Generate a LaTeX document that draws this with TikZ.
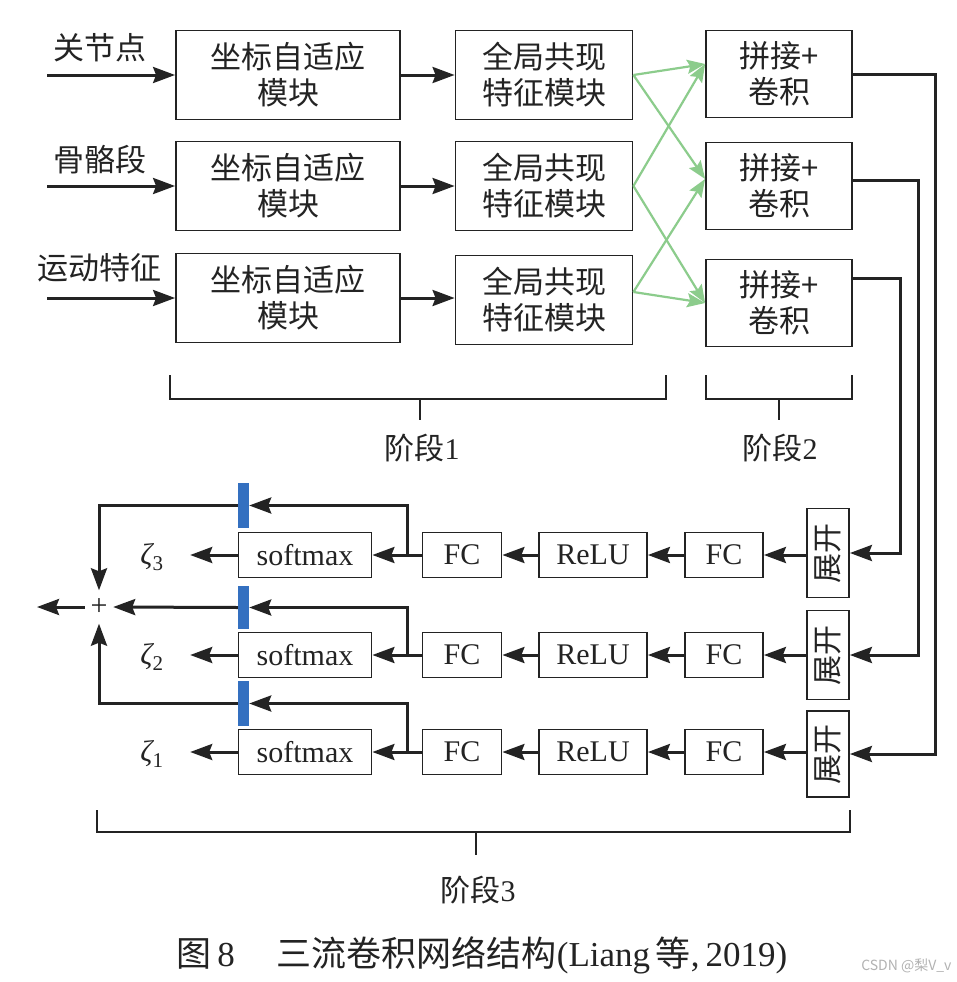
\documentclass[tikz,border=0pt]{standalone}
\usepackage{graphicx}
\usepackage{fontspec}
\setmainfont{Liberation Serif}
\newfontfamily\cjk{Noto Sans CJK SC}
\newfontfamily\wmfont{Noto Sans CJK SC}
\usepackage{xcolor}
\usetikzlibrary{arrows.meta,positioning,calc}
\definecolor{linkgreen}{RGB}{140,204,140}
\definecolor{barblue}{RGB}{52,112,192}
\definecolor{ink}{RGB}{35,35,35}

\begin{document}
\begin{tikzpicture}[x=1pt,y=-1pt,>={Stealth[length=22pt,width=16pt,inset=3pt]},
  blk/.style={draw=ink,line width=1.8pt,inner sep=0pt,align=center,text=ink,font=\fontsize{30}{35}\selectfont},
  modbox/.style={blk,font=\cjk\fontsize{31}{36}\selectfont,minimum height=89pt},
  unitbox/.style={blk,minimum height=45pt},
  arr/.style={->,line width=3pt,ink},
  xarr/.style={-{Stealth[length=18pt,width=14pt,inset=3pt]},line width=2.2pt,linkgreen},
  brk/.style={line width=1.6pt,ink},
  lbl/.style={text=ink,font=\fontsize{30}{35}\selectfont},
  gatebar/.style={fill=barblue,minimum width=11pt,minimum height=45pt,inner sep=0pt}]
  \fill[white] (0,0) rectangle (957,982);
  \useasboundingbox (0,0) rectangle (957,982);

  % stage 1: inputs and per-stream modules
  \node[lbl,font=\cjk\fontsize{31}{36}\selectfont] (jnt) at (100,48) {关节点};
  \node[lbl,font=\cjk\fontsize{31}{36}\selectfont] (bone) at (100,160) {骨骼段};
  \node[lbl,font=\cjk\fontsize{31}{36}\selectfont] (motion) at (99,268) {运动特征};
  \coordinate (in1) at (47,75);
  \coordinate (in2) at (47,186);
  \coordinate (in3) at (47,298);
  \node[modbox,minimum width=224pt] (cam1) at (288,75) {坐标自适应\\模块};
  \node[modbox,minimum width=224pt] (cam2) at (288,186) {坐标自适应\\模块};
  \node[modbox,minimum width=224pt] (cam3) at (288,298) {坐标自适应\\模块};
  \node[modbox,minimum width=177pt] (gcf1) at (544,75) {全局共现\\特征模块};
  \node[modbox,minimum width=177pt] (gcf2) at (544,186) {全局共现\\特征模块};
  \node[modbox,minimum width=177pt] (gcf3) at (544,300) {全局共现\\特征模块};
  \draw[arr] (in1) -- (cam1.west);
  \draw[arr] (in2) -- (cam2.west);
  \draw[arr] (in3) -- (cam3.west);
  \draw[arr] (cam1) -- (gcf1);
  \draw[arr] (cam2) -- (gcf2);
  \draw[arr] (cam3.east) -- (gcf3.west |- cam3.east);

  % stage 2: concatenation
  \node[modbox,minimum width=146pt,minimum height=87pt] (cat1) at (779,74) {拼接+\\卷积};
  \node[modbox,minimum width=146pt,minimum height=87pt] (cat2) at (779,186) {拼接+\\卷积};
  \node[modbox,minimum width=146pt,minimum height=87pt] (cat3) at (779,303) {拼接+\\卷积};
  \draw[xarr] (gcf1.east) -- ([yshift=10pt]cat1.west);
  \draw[xarr] (gcf1.east) -- ([yshift=7pt]cat2.west);
  \draw[xarr] (gcf2.east) -- ([yshift=10pt]cat1.west);
  \draw[xarr] (gcf2.east) -- (cat3.west);
  \draw[xarr] ([yshift=8pt]gcf3.east) -- ([yshift=7pt]cat2.west);
  \draw[xarr] ([yshift=8pt]gcf3.east) -- (cat3.west);

  % brackets
  \draw[brk] (170,375) |- (666,399) -- (666,375);
  \draw[brk] (420,399) -- (420,420);
  \node[lbl] (st1) at (422,448) {{\cjk 阶段}1};
  \draw[brk] (706,375) |- (852,399) -- (852,375);
  \draw[brk] (779,399) -- (779,420);
  \node[lbl] (st2) at (780,448) {{\cjk 阶段}2};

  % stage 3: three heads
  \node[blk,minimum width=42pt,minimum height=89pt] (unf3) at (828,553) {\rotatebox{90}{\cjk 展开}};
  \node[blk,minimum width=42pt,minimum height=89pt] (unf2) at (828,655) {\rotatebox{90}{\cjk 展开}};
  \node[blk,minimum width=42pt,minimum height=86pt] (unf1) at (828,754) {\rotatebox{90}{\cjk 展开}};
  \draw[arr] ([yshift=25pt]cat3.east) -| ([xshift=51pt]unf3.east) -- (unf3.east);
  \draw[arr] ([yshift=6pt]cat2.east) -| ([xshift=69pt]unf2.east) -- (unf2.east);
  \draw[arr] (cat1.east) -| ([xshift=86pt]unf1.east) -- (unf1.east);

  \node[unitbox,minimum width=78pt] (fcb3) at (724,555) {FC};
  \node[unitbox,minimum width=108pt] (relu3) at (593,555) {ReLU};
  \node[unitbox,minimum width=79pt] (fca3) at (462,555) {FC};
  \node[unitbox,minimum width=133pt] (sm3) at (305,555) {softmax};
  \node[lbl,minimum width=76pt,inner sep=0pt] (z3) at (152,557) {{\itshape ζ}\textsubscript{3}};
  \node[unitbox,minimum width=78pt] (fcb2) at (724,655) {FC};
  \node[unitbox,minimum width=108pt] (relu2) at (593,655) {ReLU};
  \node[unitbox,minimum width=79pt] (fca2) at (462,655) {FC};
  \node[unitbox,minimum width=133pt] (sm2) at (305,655) {softmax};
  \node[lbl,minimum width=76pt,inner sep=0pt] (z2) at (152,657) {{\itshape ζ}\textsubscript{2}};
  \node[unitbox,minimum width=78pt] (fcb1) at (724,752) {FC};
  \node[unitbox,minimum width=108pt] (relu1) at (593,752) {ReLU};
  \node[unitbox,minimum width=79pt] (fca1) at (462,752) {FC};
  \node[unitbox,minimum width=133pt] (sm1) at (305,752) {softmax};
  \node[lbl,minimum width=76pt,inner sep=0pt] (z1) at (152,754) {{\itshape ζ}\textsubscript{1}};

  \draw[arr] (unf3.west |- fcb3.east) -- (fcb3.east);
  \draw[arr] (fcb3) -- (relu3);
  \draw[arr] (relu3) -- (fca3);
  \draw[arr] (fca3) -- (sm3);
  \draw[arr] (sm3.west) -- (z3.east |- sm3.west);
  \draw[arr] (unf2.west |- fcb2.east) -- (fcb2.east);
  \draw[arr] (fcb2) -- (relu2);
  \draw[arr] (relu2) -- (fca2);
  \draw[arr] (fca2) -- (sm2);
  \draw[arr] (sm2.west) -- (z2.east |- sm2.west);
  \draw[arr] (unf1.west |- fcb1.east) -- (fcb1.east);
  \draw[arr] (fcb1) -- (relu1);
  \draw[arr] (relu1) -- (fca1);
  \draw[arr] (fca1) -- (sm1);
  \draw[arr] (sm1.west) -- (z1.east |- sm1.west);

  % gated shortcut to the fusion
  \node[gatebar] (gb3) at (243.5,505.5) {};
  \node[gatebar,minimum height=43pt] (gb2) at (243.5,607.5) {};
  \node[gatebar] (gb1) at (243.5,703.5) {};
  \coordinate (j3) at (407,555);
  \coordinate (j2) at (407,655);
  \coordinate (j1) at (407,752);
  \draw[arr] (j3) |- (gb3.east);
  \draw[arr] (j2) |- (gb2.east);
  \draw[arr] (j1) |- (gb1.east);
  \node[lbl,minimum width=28pt,minimum height=33pt,inner sep=0pt] (sum) at (99,607) {+};
  \coordinate (out) at (37,607);
  \draw[arr] (gb3.west) -| (sum.north);
  \draw[arr] (gb2.west) -- (sum.east);
  \draw[arr] (gb1.west) -| (sum.south);
  \draw[arr] (sum.west) -- (out);

  \draw[brk] (97,810) |- (850,832) -- (850,810);
  \draw[brk] (476,832) -- (476,855);
  \node[lbl] (st3) at (478,890) {{\cjk 阶段}3};

  % caption
  \node[text=ink,font=\fontsize{35}{40}\selectfont,anchor=west] (cap) at (173,955)
    {{\cjk 图}\,8\hspace{1.2em}{\cjk 三流卷积网络结构}(Liang\,{\cjk 等},\,2019)};
  \node[text=gray!60,font=\wmfont\fontsize{14}{16}\selectfont,anchor=east] (wm) at (955,966) {CSDN @梨V\_v};
\end{tikzpicture}
\end{document}
